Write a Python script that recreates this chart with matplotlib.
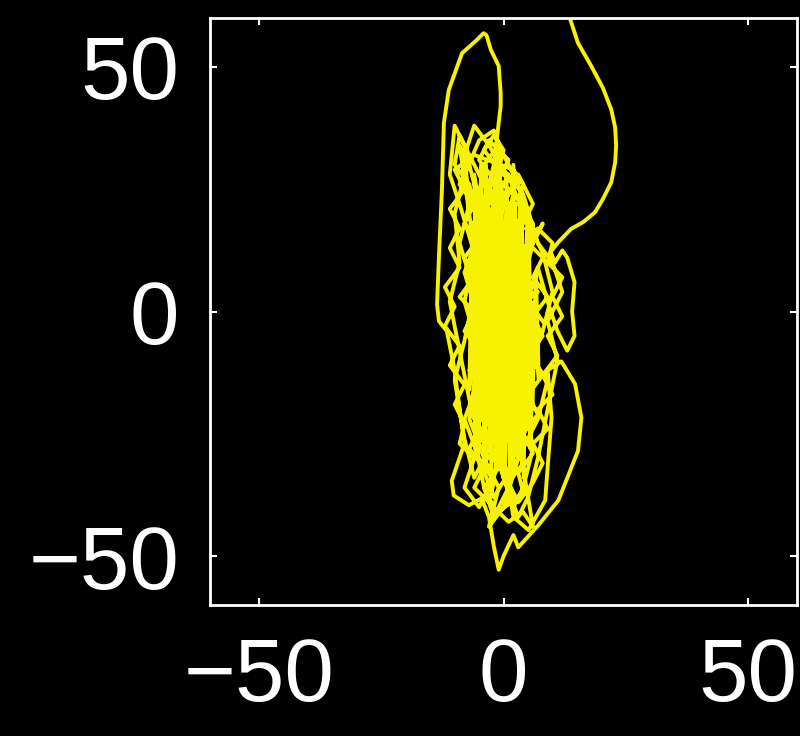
import matplotlib.pyplot as plt

# trajectory, in data units (x, y)
tail = [(13.2, 61), (15.2, 54.9), (17.9, 50.2), (20.3, 45.7), (22, 41.3), (22.8, 37.6),
        (23, 33.9), (22.8, 30.5), (22, 26.4), (20.3, 23), (18.7, 20.3), (16.3, 18.3),
        (13.8, 16.9), (11.2, 14.2), (9.6, 12.2)]

right_bump = [(10.5, 10), (12, 12.5), (13, 11), (14.5, 6), (14, 0), (14.5, -5),
              (13, -8), (11, -4), (9, 2), (7, 9)]

core = [(3, -4), (6, -15), (2, -26), (-1, -18), (1, -6), (-2, 6), (0, 16), (-3, 26),
        (-1, 34), (-4, 30), (-6, 18), (-4, 6), (-7, -4), (-5, -14), (-8, -22), (-5, -30),
        (-2, -38), (1, -33), (3, -22), (5, -12), (8, -4), (10, 4), (8, 12), (5, 18),
        (3, 26), (0, 32), (-2, 37), (-5, 35), (-8, 28), (-10, 20), (-9, 10), (-11, 2),
        (-9, -8), (-7, -18), (-4, -26), (-1, -31), (2, -40), (4, -36), (6, -28), (4, -16),
        (7, -8), (5, 2), (2, 12), (4, 20), (1, 28), (-2, 22), (-4, 12), (-2, 0),
        (-5, -10), (-2, -22), (0, -34), (3, -42), (5, -38), (7, -30), (9, -20), (11, -10),
        (9, -2), (12, 4), (10, 10), (7, 14), (4, 24), (0, 29), (-3, 34), (-6, 38),
        (-8, 32), (-7, 22), (-9, 14), (-6, 4), (-8, -6), (-10, -14), (-8, -26), (-6, -34),
        (-3, -28), (-5, -18), (-2, -10), (1, 0), (-1, 10), (2, 20), (-1, 26), (-4, 20),
        (-1, 8), (2, -2), (0, -14), (3, -24), (1, -36), (-2, -42), (-4, -36), (-6, -26),
        (-3, -16), (-6, -6), (-3, 4), (-6, 14), (-3, 24), (-6, 30), (-9, 36), (-10, 30),
        (-7, 26), (-5, 16), (-8, 8), (-5, -2), (-2, -14), (-4, -24), (-1, -28), (2, -18),
        (4, -8), (2, 4), (5, 10), (3, 16), (6, 22), (3, 28), (0, 22), (-2, 14),
        (1, 4), (-1, -6), (2, -12), (5, -20), (3, -30), (0, -40), (-3, -44), (-1, -36),
        (-4, -30), (-7, -22), (-5, -8), (-8, 2), (-6, 12), (-9, 22), (-11, 28), (-10, 38),
        (-8, 34), (-6, 26), (-3, 18), (0, 8), (3, -2), (6, -10), (9, -14), (7, -22),
        (4, -28), (1, -24), (-1, -14), (1, -4), (4, 6), (6, 14), (8, 18), (5, 12),
        (2, 2), (-1, -8), (-3, -20), (-6, -30), (-8, -36), (-5, -40), (-2, -34), (0, -24),
        (-2, -4), (0, 12), (-2, 30), (-1, 38.6)]

upper_loop = [(-0.6, 42), (-0.6, 44.7), (-1, 50.2), (-2.6, 53.5), (-3.5, 56.5), (-4.1, 56.9),
              (-5.5, 55.5), (-8.5, 52.8), (-11.2, 45.3), (-12.2, 38.6), (-12.6, 25),
              (-13.2, 11.6), (-13.6, 1.4), (-13.2, -2), (-11.6, -4)]

lower_loops = [(-10, -12), (-9, -20), (-8, -27), (-10.6, -34.6), (-10.2, -37.6), (-7.1, -39.6),
               (-4.5, -38.2), (-3, -42), (-2, -48), (-1, -52.8), (0, -50), (2, -45.7),
               (3, -48.2), (7.1, -43.7), (11.2, -38.6), (15.2, -28.5), (15.9, -21.7),
               (14.6, -14.8), (11.8, -10.2), (9, -12), (9.8, -21.7), (9.1, -30.5),
               (8.5, -38.6), (5.1, -44.7), (2, -42), (0, -30)]

# the dense scribble in the middle, short wiggles
scribble = [(-9, 34), (-7, 30), (-9, 26), (-6, 22), (-8, 18), (-5, 15), (-8, 11), (-6, 7),
            (-9, 3), (-6, 0), (-8, -4), (-5, -8), (-7, -12), (-4, -16), (-7, -20), (-5, -24),
            (-7, -28), (-4, -32), (-6, -36), (-3, -39),
            (-2, -35), (-4, -31), (-1, -27), (-3, -23), (0, -19), (-3, -15), (-1, -11), (-4, -7),
            (-1, -3), (-3, 1), (0, 5), (-3, 9), (-1, 13), (-4, 17), (-1, 21), (-3, 25),
            (-1, 29), (-4, 33), (-2, 36),
            (0, 33), (-1, 29), (2, 26), (0, 22), (3, 18), (0, 14), (2, 10), (0, 6),
            (3, 2), (1, -2), (3, -6), (0, -10), (2, -14), (0, -18), (3, -22), (1, -26),
            (3, -30), (0, -34), (2, -38), (-1, -41),
            (4, -37), (3, -33), (6, -29), (4, -25), (7, -21), (5, -17), (8, -13), (5, -9),
            (8, -5), (6, -1), (9, 3), (6, 7), (8, 11), (5, 14), (6, 18), (3, 22),
            (4, 26), (2, 29),
            (-6, 32), (-10, 29), (-8, 25), (-11, 21), (-9, 17), (-11, 13), (-9, 9), (-12, 5),
            (-10, 1), (-12, -3), (-9, -7), (-11, -11), (-8, -15), (-10, -19), (-8, -23),
            (-9, -27), (-6, -30),
            (-4, -27), (-6, -23), (-3, -20), (-5, -16), (-2, -13), (-5, -9), (-3, -5), (-6, -1),
            (-3, 3), (-5, 7), (-2, 11), (-5, 15), (-2, 19), (-4, 23), (-2, 27), (-5, 31),
            (-3, 35),
            (1, 31), (-1, 27), (2, 24), (1, 20), (4, 17), (2, 13), (5, 9), (3, 5),
            (6, 1), (4, -3), (7, -7), (4, -11), (6, -15), (3, -19), (5, -23), (2, -27),
            (4, -31), (1, -35), (3, -39),
            (6, -35), (8, -31), (6, -27), (9, -24), (7, -20), (10, -17), (8, -13), (11, -9),
            (9, -5), (12, -1), (10, 3), (12, 7), (9, 10), (10, 14), (7, 17),
            (5, 14), (2, 10), (4, 6), (1, 3), (3, -1), (-1, -4), (1, -8), (-2, -12),
            (1, -16), (-2, -20), (0, -24), (-3, -28), (-1, -32), (-4, -36), (-2, -40),
            (1, -43), (4, -41), (6, -44)]

# solid-looking centre: tight vertical strokes
centre = [(-6, 28), (-5.3, -24), (-4.6, 30), (-3.9, -30), (-3.2, 26), (-2.5, -34), (-1.8, 30),
          (-1.1, -28), (-0.4, 24), (0.3, -32), (1, 20), (1.7, -26), (2.4, 22), (3.1, -30),
          (3.8, 16), (4.5, -24), (5.2, 12), (5.9, -20), (6.6, 8), (7.2, -14), (6.2, 2),
          (5.5, -28), (4.8, 18), (4.1, -34), (3.4, 24), (2.7, -22), (2, 30), (1.3, -36),
          (0.6, 28), (-0.1, -24), (-0.8, 33), (-1.5, -32), (-2.2, 22), (-2.9, -26),
          (-3.6, 30), (-4.3, -20), (-5, 24), (-5.7, -30), (-6.4, 18), (-7, -16),
          (-4, 8), (6, -4), (-5, -6), (7, 4), (-3, 2), (5, -10), (-2, 12), (8, -2)]

path = tail + right_bump + core + upper_loop + lower_loops + scribble + centre
xs = [p[0] for p in path]
ys = [p[1] for p in path]

ticks = [-50, 0, 50]
tick_labels = ['\u221250', '0', '50']

plt.rcParams['font.family'] = ['Liberation Sans', 'DejaVu Sans']

fig = plt.figure(figsize=(8, 7.36), dpi=100, facecolor='black')
ax = fig.add_axes([0.2625, 0.178, 0.734, 0.7975])
ax.set_facecolor('black')
ax.plot(xs, ys, color='#f6f200', linewidth=2.8, solid_joinstyle='round')

ax.set_xlim(-60, 60)
ax.set_ylim(-60, 60)
ax.set_xticks(ticks)
ax.set_yticks(ticks)
ax.set_xticklabels(tick_labels)
ax.set_yticklabels(tick_labels)
ax.tick_params(direction='in', length=5, width=1.5, colors='white', labelsize=64,
               top=True, right=True, pad=22)
for s in ax.spines.values():
    s.set_color('white')
    s.set_linewidth(2)

fig.savefig('out.png', facecolor='black')
